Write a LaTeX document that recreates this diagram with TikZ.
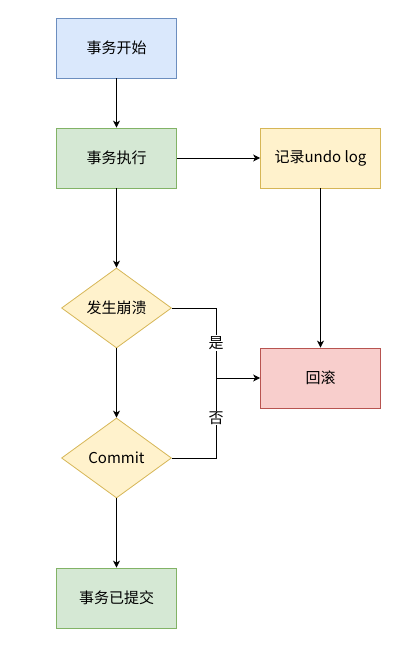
\documentclass[tikz,border=0pt]{standalone}
\usepackage{fontspec}
\setmainfont{Noto Sans CJK SC}
\usetikzlibrary{shapes.geometric,arrows.meta}
\definecolor{bfill}{HTML}{DAE8FC}\definecolor{bdraw}{HTML}{6C8EBF}
\definecolor{gfill}{HTML}{D5E8D4}\definecolor{gdraw}{HTML}{82B366}
\definecolor{yfill}{HTML}{FFF2CC}\definecolor{ydraw}{HTML}{D6B656}
\definecolor{rfill}{HTML}{F8CECC}\definecolor{rdraw}{HTML}{B85450}
\begin{document}
\begin{tikzpicture}[x=1pt,y=-1pt,
  every node/.style={font=\fontsize{15}{17}\selectfont},
  box/.style={draw,rectangle,minimum width=120pt,minimum height=60pt,inner sep=0pt,line width=0.8pt},
  dia/.style={draw,diamond,minimum width=110pt,minimum height=80pt,inner sep=0pt,aspect=1.375,line width=0.8pt,fill=yfill,draw=ydraw},
  conn/.style={draw=black,line width=0.8pt,-{Stealth[length=7pt,width=7pt,inset=2pt]}},
  lbl/.style={fill=white,inner sep=1pt}]
\useasboundingbox (0,0) rectangle (410,659);
\node[box,fill=bfill,draw=bdraw] (start) at (116.5,48) {事务开始};
\node[box,fill=gfill,draw=gdraw] (exec) at (116.5,158) {事务执行};
\node[box,fill=yfill,draw=ydraw] (undo) at (320.5,158) {记录undo log};
\node[dia] (crash) at (116.5,308) {发生崩溃};
\node[box,fill=rfill,draw=rdraw] (roll) at (320.5,378) {回滚};
\node[dia] (commit) at (116.5,458) {Commit};
\node[box,fill=gfill,draw=gdraw] (done) at (116.5,598) {事务已提交};
\coordinate (j) at (216,378);
\draw[conn] (start) -- (exec);
\draw[conn] (exec) -- (undo);
\draw[conn] (exec) -- (crash);
\draw[conn] (undo) -- (roll);
\draw[conn] (crash) -- (commit);
\draw[conn] (commit) -- (done);
\draw[conn] (crash.east) -| (j) -- (roll.west);
\draw[line width=0.8pt] (commit.east) -| (j);
\node[lbl] (yes) at (216,343) {是};
\node[lbl] (no) at (216,418) {否};
\end{tikzpicture}
\end{document}
